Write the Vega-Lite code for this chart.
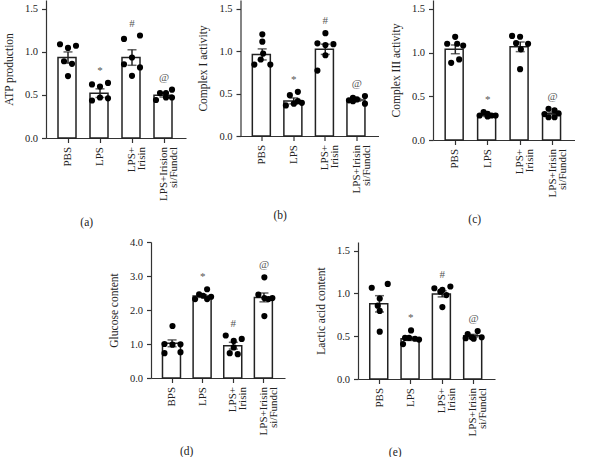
{
"$schema": "https://vega.github.io/schema/vega-lite/v6.json",
"padding": {"left": 3, "top": 0, "right": 0, "bottom": 0},
"background": "white",
"config": {
  "font": "Liberation Serif",
  "view": {"stroke": null},
  "axis": {"labelFont": "Liberation Serif", "titleFont": "Liberation Serif", "labelFontSize": 10.5, "titleFontSize": 11.5, "titleFontWeight": "normal", "labelColor": "#222", "titleColor": "#222", "domainColor": "#333", "tickColor": "#333", "domainWidth": 1.2, "tickWidth": 1.2, "tickSize": 4.5, "grid": false, "labelPadding": 4, "titlePadding": 10, "labelOverlap": false},
  "axisX": {"labelFontSize": 11},
  "title": {"font": "Liberation Serif", "fontSize": 11.5, "fontWeight": "normal", "color": "#222"}
},
"datasets": {
  "a_sum": [
    {"g": "PBS", "mean": 0.933, "sem": 0.065, "sig": ""},
    {"g": "LPS", "mean": 0.52, "sem": 0.05, "sig": "*"},
    {"g": "LPS+|Irisin", "mean": 0.933, "sem": 0.09, "sig": "#"},
    {"g": "LPS+Irision|si/Fundcl", "mean": 0.495, "sem": 0.02, "sig": "@"}
  ],
  "a_pts": [
    {"g": "PBS", "v": 1.087, "slot": 1}, {"g": "PBS", "v": 1.044, "slot": 3}, {"g": "PBS", "v": 1.07, "slot": 5},
    {"g": "PBS", "v": 0.89, "slot": 2}, {"g": "PBS", "v": 0.86, "slot": 4}, {"g": "PBS", "v": 0.718, "slot": 3},
    {"g": "LPS", "v": 0.621, "slot": 1}, {"g": "LPS", "v": 0.596, "slot": 3}, {"g": "LPS", "v": 0.639, "slot": 5},
    {"g": "LPS", "v": 0.435, "slot": 1}, {"g": "LPS", "v": 0.47, "slot": 3}, {"g": "LPS", "v": 0.46, "slot": 5},
    {"g": "LPS+|Irisin", "v": 1.149, "slot": 1}, {"g": "LPS+|Irisin", "v": 1.188, "slot": 5}, {"g": "LPS+|Irisin", "v": 0.855, "slot": 1},
    {"g": "LPS+|Irisin", "v": 0.933, "slot": 3}, {"g": "LPS+|Irisin", "v": 0.818, "slot": 5}, {"g": "LPS+|Irisin", "v": 0.721, "slot": 3},
    {"g": "LPS+Irision|si/Fundcl", "v": 0.441, "slot": 1}, {"g": "LPS+Irision|si/Fundcl", "v": 0.521, "slot": 2}, {"g": "LPS+Irision|si/Fundcl", "v": 0.521, "slot": 3.5},
    {"g": "LPS+Irision|si/Fundcl", "v": 0.56, "slot": 5}, {"g": "LPS+Irision|si/Fundcl", "v": 0.47, "slot": 3.5}, {"g": "LPS+Irision|si/Fundcl", "v": 0.47, "slot": 5}
  ],
  "b_sum": [
    {"g": "PBS", "mean": 0.96, "sem": 0.065, "sig": ""},
    {"g": "LPS", "mean": 0.413, "sem": 0.035, "sig": "*"},
    {"g": "LPS+|Irisin", "mean": 1.02, "sem": 0.06, "sig": "#"},
    {"g": "LPS+Irisin|si/Fundcl", "mean": 0.425, "sem": 0.015, "sig": "@"}
  ],
  "b_pts": [
    {"g": "PBS", "v": 1.196, "slot": 3}, {"g": "PBS", "v": 1.11, "slot": 3}, {"g": "PBS", "v": 0.97, "slot": 3.2},
    {"g": "PBS", "v": 0.84, "slot": 1}, {"g": "PBS", "v": 0.84, "slot": 5}, {"g": "PBS", "v": 0.9, "slot": 2.6},
    {"g": "LPS", "v": 0.48, "slot": 2}, {"g": "LPS", "v": 0.52, "slot": 4}, {"g": "LPS", "v": 0.36, "slot": 1},
    {"g": "LPS", "v": 0.38, "slot": 3}, {"g": "LPS", "v": 0.39, "slot": 5}, {"g": "LPS", "v": 0.41, "slot": 4},
    {"g": "LPS+|Irisin", "v": 1.21, "slot": 3}, {"g": "LPS+|Irisin", "v": 1.09, "slot": 1}, {"g": "LPS+|Irisin", "v": 1.08, "slot": 5},
    {"g": "LPS+|Irisin", "v": 1.07, "slot": 3}, {"g": "LPS+|Irisin", "v": 0.95, "slot": 3}, {"g": "LPS+|Irisin", "v": 0.77, "slot": 1},
    {"g": "LPS+Irisin|si/Fundcl", "v": 0.45, "slot": 2}, {"g": "LPS+Irisin|si/Fundcl", "v": 0.47, "slot": 5}, {"g": "LPS+Irisin|si/Fundcl", "v": 0.42, "slot": 1},
    {"g": "LPS+Irisin|si/Fundcl", "v": 0.43, "slot": 3}, {"g": "LPS+Irisin|si/Fundcl", "v": 0.41, "slot": 2}, {"g": "LPS+Irisin|si/Fundcl", "v": 0.38, "slot": 5}
  ],
  "c_sum": [
    {"g": "PBS", "mean": 1.036, "sem": 0.05, "sig": ""},
    {"g": "LPS", "mean": 0.279, "sem": 0.01, "sig": "*"},
    {"g": "LPS+|Irisin", "mean": 1.065, "sem": 0.055, "sig": ""},
    {"g": "LPS+Irisin|si/Fundcl", "mean": 0.304, "sem": 0.015, "sig": "@"}
  ],
  "c_pts": [
    {"g": "PBS", "v": 1.179, "slot": 3}, {"g": "PBS", "v": 1.1, "slot": 1}, {"g": "PBS", "v": 1.1, "slot": 3.5},
    {"g": "PBS", "v": 1.079, "slot": 5}, {"g": "PBS", "v": 0.882, "slot": 2}, {"g": "PBS", "v": 0.921, "slot": 4},
    {"g": "LPS", "v": 0.28, "slot": 1}, {"g": "LPS", "v": 0.32, "slot": 2}, {"g": "LPS", "v": 0.3, "slot": 3},
    {"g": "LPS", "v": 0.28, "slot": 4}, {"g": "LPS", "v": 0.28, "slot": 5}, {"g": "LPS", "v": 0.27, "slot": 3},
    {"g": "LPS+|Irisin", "v": 1.19, "slot": 1}, {"g": "LPS+|Irisin", "v": 1.18, "slot": 3}, {"g": "LPS+|Irisin", "v": 1.107, "slot": 2},
    {"g": "LPS+|Irisin", "v": 1.1, "slot": 5}, {"g": "LPS+|Irisin", "v": 1.036, "slot": 3.2}, {"g": "LPS+|Irisin", "v": 0.81, "slot": 3},
    {"g": "LPS+Irisin|si/Fundcl", "v": 0.296, "slot": 1}, {"g": "LPS+Irisin|si/Fundcl", "v": 0.357, "slot": 2}, {"g": "LPS+Irisin|si/Fundcl", "v": 0.339, "slot": 3.5},
    {"g": "LPS+Irisin|si/Fundcl", "v": 0.304, "slot": 4.5}, {"g": "LPS+Irisin|si/Fundcl", "v": 0.26, "slot": 2}, {"g": "LPS+Irisin|si/Fundcl", "v": 0.26, "slot": 3.5}
  ],
  "d_sum": [
    {"g": "BPS", "mean": 1.02, "sem": 0.1, "sig": ""},
    {"g": "LPS", "mean": 2.41, "sem": 0.04, "sig": "*"},
    {"g": "LPS+|Irisin", "mean": 0.95, "sem": 0.1, "sig": "#"},
    {"g": "LPS+Irisin|si/Fundcl", "mean": 2.37, "sem": 0.13, "sig": "@"}
  ],
  "d_pts": [
    {"g": "BPS", "v": 1.53, "slot": 3}, {"g": "BPS", "v": 1.0, "slot": 1}, {"g": "BPS", "v": 0.98, "slot": 3},
    {"g": "BPS", "v": 0.99, "slot": 5}, {"g": "BPS", "v": 0.73, "slot": 1}, {"g": "BPS", "v": 0.76, "slot": 5},
    {"g": "LPS", "v": 2.61, "slot": 4}, {"g": "LPS", "v": 2.46, "slot": 2}, {"g": "LPS", "v": 2.42, "slot": 3},
    {"g": "LPS", "v": 2.39, "slot": 5}, {"g": "LPS", "v": 2.32, "slot": 1}, {"g": "LPS", "v": 2.32, "slot": 4},
    {"g": "LPS+|Irisin", "v": 1.25, "slot": 1}, {"g": "LPS+|Irisin", "v": 1.15, "slot": 5}, {"g": "LPS+|Irisin", "v": 1.09, "slot": 3},
    {"g": "LPS+|Irisin", "v": 0.73, "slot": 2}, {"g": "LPS+|Irisin", "v": 0.7, "slot": 4}, {"g": "LPS+|Irisin", "v": 0.9, "slot": 3},
    {"g": "LPS+Irisin|si/Fundcl", "v": 2.96, "slot": 3}, {"g": "LPS+Irisin|si/Fundcl", "v": 2.45, "slot": 1.5}, {"g": "LPS+Irisin|si/Fundcl", "v": 2.35, "slot": 3},
    {"g": "LPS+Irisin|si/Fundcl", "v": 2.32, "slot": 4}, {"g": "LPS+Irisin|si/Fundcl", "v": 2.35, "slot": 5}, {"g": "LPS+Irisin|si/Fundcl", "v": 1.82, "slot": 3}
  ],
  "e_sum": [
    {"g": "PBS", "mean": 0.878, "sem": 0.095, "sig": ""},
    {"g": "LPS", "mean": 0.47, "sem": 0.02, "sig": "*"},
    {"g": "LPS+|Irisin", "mean": 0.994, "sem": 0.035, "sig": "#"},
    {"g": "LPS+Irisin|si/Fundcl", "mean": 0.506, "sem": 0.015, "sig": "@"}
  ],
  "e_pts": [
    {"g": "PBS", "v": 1.066, "slot": 1}, {"g": "PBS", "v": 1.11, "slot": 5}, {"g": "PBS", "v": 0.94, "slot": 3},
    {"g": "PBS", "v": 0.856, "slot": 2.5}, {"g": "PBS", "v": 0.795, "slot": 3}, {"g": "PBS", "v": 0.553, "slot": 3},
    {"g": "LPS", "v": 0.567, "slot": 3}, {"g": "LPS", "v": 0.408, "slot": 1}, {"g": "LPS", "v": 0.48, "slot": 1.5},
    {"g": "LPS", "v": 0.48, "slot": 2.5}, {"g": "LPS", "v": 0.47, "slot": 4}, {"g": "LPS", "v": 0.46, "slot": 5},
    {"g": "LPS+|Irisin", "v": 1.06, "slot": 1}, {"g": "LPS+|Irisin", "v": 1.04, "slot": 3}, {"g": "LPS+|Irisin", "v": 1.08, "slot": 5},
    {"g": "LPS+|Irisin", "v": 1.02, "slot": 2.5}, {"g": "LPS+|Irisin", "v": 0.98, "slot": 4}, {"g": "LPS+|Irisin", "v": 0.84, "slot": 3},
    {"g": "LPS+Irisin|si/Fundcl", "v": 0.524, "slot": 1.5}, {"g": "LPS+Irisin|si/Fundcl", "v": 0.56, "slot": 4}, {"g": "LPS+Irisin|si/Fundcl", "v": 0.488, "slot": 2.5},
    {"g": "LPS+Irisin|si/Fundcl", "v": 0.47, "slot": 3}, {"g": "LPS+Irisin|si/Fundcl", "v": 0.488, "slot": 5}, {"g": "LPS+Irisin|si/Fundcl", "v": 0.477, "slot": 1}
  ]
},
"vconcat": [
  {"hconcat": [
    {"title": {"text": "(a)", "orient": "bottom", "frame": "bounds", "anchor": "middle", "offset": 17, "dx": -8},
     "width": 140, "height": 138,
     "encoding": {"x": {"field": "g", "type": "nominal", "title": null, "scale": {"domain": ["PBS", "LPS", "LPS+|Irisin", "LPS+Irision|si/Fundcl"], "paddingInner": 0.375, "paddingOuter": 0.375}, "axis": {"labelAngle": -90, "labelExpr": "split(datum.value, '|')", "labelLineHeight": 10}}},
     "layer": [
      {"data": {"name": "a_sum"}, "mark": {"type": "bar", "fill": "white", "stroke": "#222", "strokeWidth": 1.5}, "encoding": {"y": {"field": "mean", "type": "quantitative", "title": "ATP production", "scale": {"domain": [0, 1.5]}, "axis": {"values": [0, 0.5, 1, 1.5], "format": ".1f"}}}},
      {"data": {"name": "a_sum"}, "mark": {"type": "errorbar", "ticks": true, "size": 9, "thickness": 1.5, "color": "#222"}, "encoding": {"y": {"field": "mean", "type": "quantitative", "title": "ATP production", "axis": {"values": [0, 0.5, 1, 1.5], "format": ".1f"}}, "yError": {"field": "sem"}}},
      {"data": {"name": "a_pts"}, "mark": {"type": "circle", "size": 38, "color": "black", "opacity": 1}, "encoding": {"y": {"field": "v", "type": "quantitative", "title": "ATP production", "axis": {"values": [0, 0.5, 1, 1.5], "format": ".1f"}}, "xOffset": {"field": "slot", "type": "quantitative", "scale": {"domain": [0.5, 5.5]}}}},
      {"data": {"name": "a_pts"}, "transform": [{"aggregate": [{"op": "max", "field": "v", "as": "top"}], "groupby": ["g"]}, {"lookup": "g", "from": {"data": {"name": "a_sum"}, "key": "g", "fields": ["sig"]}}], "mark": {"type": "text", "dy": -12, "fontSize": 11, "color": "#555", "baseline": "middle"}, "encoding": {"y": {"field": "top", "type": "quantitative", "title": "ATP production", "axis": {"values": [0, 0.5, 1, 1.5], "format": ".1f"}}, "text": {"field": "sig"}}}
     ]},
    {"title": {"text": "(b)", "orient": "bottom", "frame": "bounds", "anchor": "middle", "offset": 17, "dx": -8},
     "width": 138, "height": 136,
     "encoding": {"x": {"field": "g", "type": "nominal", "title": null, "scale": {"domain": ["PBS", "LPS", "LPS+|Irisin", "LPS+Irisin|si/Fundcl"], "paddingInner": 0.375, "paddingOuter": 0.375}, "axis": {"labelAngle": -90, "labelExpr": "split(datum.value, '|')", "labelLineHeight": 10}}},
     "layer": [
      {"data": {"name": "b_sum"}, "mark": {"type": "bar", "fill": "white", "stroke": "#222", "strokeWidth": 1.5}, "encoding": {"y": {"field": "mean", "type": "quantitative", "title": "Complex I activity", "scale": {"domain": [0, 1.5]}, "axis": {"values": [0, 0.5, 1, 1.5], "format": ".1f"}}}},
      {"data": {"name": "b_sum"}, "mark": {"type": "errorbar", "ticks": true, "size": 9, "thickness": 1.5, "color": "#222"}, "encoding": {"y": {"field": "mean", "type": "quantitative", "title": "Complex I activity", "axis": {"values": [0, 0.5, 1, 1.5], "format": ".1f"}}, "yError": {"field": "sem"}}},
      {"data": {"name": "b_pts"}, "mark": {"type": "circle", "size": 38, "color": "black", "opacity": 1}, "encoding": {"y": {"field": "v", "type": "quantitative", "title": "Complex I activity", "axis": {"values": [0, 0.5, 1, 1.5], "format": ".1f"}}, "xOffset": {"field": "slot", "type": "quantitative", "scale": {"domain": [0.5, 5.5]}}}},
      {"data": {"name": "b_pts"}, "transform": [{"aggregate": [{"op": "max", "field": "v", "as": "top"}], "groupby": ["g"]}, {"lookup": "g", "from": {"data": {"name": "b_sum"}, "key": "g", "fields": ["sig"]}}], "mark": {"type": "text", "dy": -12, "fontSize": 11, "color": "#555", "baseline": "middle"}, "encoding": {"y": {"field": "top", "type": "quantitative", "title": "Complex I activity", "axis": {"values": [0, 0.5, 1, 1.5], "format": ".1f"}}, "text": {"field": "sig"}}}
     ]},
    {"title": {"text": "(c)", "orient": "bottom", "frame": "bounds", "anchor": "middle", "offset": 17, "dx": -8},
     "width": 142, "height": 140,
     "encoding": {"x": {"field": "g", "type": "nominal", "title": null, "scale": {"domain": ["PBS", "LPS", "LPS+|Irisin", "LPS+Irisin|si/Fundcl"], "paddingInner": 0.375, "paddingOuter": 0.375}, "axis": {"labelAngle": -90, "labelExpr": "split(datum.value, '|')", "labelLineHeight": 10}}},
     "layer": [
      {"data": {"name": "c_sum"}, "mark": {"type": "bar", "fill": "white", "stroke": "#222", "strokeWidth": 1.5}, "encoding": {"y": {"field": "mean", "type": "quantitative", "title": "Complex III activity", "scale": {"domain": [0, 1.5]}, "axis": {"values": [0, 0.5, 1, 1.5], "format": ".1f"}}}},
      {"data": {"name": "c_sum"}, "mark": {"type": "errorbar", "ticks": true, "size": 9, "thickness": 1.5, "color": "#222"}, "encoding": {"y": {"field": "mean", "type": "quantitative", "title": "Complex III activity", "axis": {"values": [0, 0.5, 1, 1.5], "format": ".1f"}}, "yError": {"field": "sem"}}},
      {"data": {"name": "c_pts"}, "mark": {"type": "circle", "size": 38, "color": "black", "opacity": 1}, "encoding": {"y": {"field": "v", "type": "quantitative", "title": "Complex III activity", "axis": {"values": [0, 0.5, 1, 1.5], "format": ".1f"}}, "xOffset": {"field": "slot", "type": "quantitative", "scale": {"domain": [0.5, 5.5]}}}},
      {"data": {"name": "c_pts"}, "transform": [{"aggregate": [{"op": "max", "field": "v", "as": "top"}], "groupby": ["g"]}, {"lookup": "g", "from": {"data": {"name": "c_sum"}, "key": "g", "fields": ["sig"]}}], "mark": {"type": "text", "dy": -12, "fontSize": 11, "color": "#555", "baseline": "middle"}, "encoding": {"y": {"field": "top", "type": "quantitative", "title": "Complex III activity", "axis": {"values": [0, 0.5, 1, 1.5], "format": ".1f"}}, "text": {"field": "sig"}}}
     ]}
  ], "spacing": 11.5},
  {"hconcat": [
    {"width": 32, "height": 10, "data": {"values": []}, "mark": {"type": "point", "opacity": 0}},
    {"title": {"text": "(d)", "orient": "bottom", "frame": "bounds", "anchor": "middle", "offset": 11, "dx": -10},
     "width": 134, "height": 136,
     "encoding": {"x": {"field": "g", "type": "nominal", "title": null, "scale": {"domain": ["BPS", "LPS", "LPS+|Irisin", "LPS+Irisin|si/Fundcl"], "paddingInner": 0.375, "paddingOuter": 0.375}, "axis": {"labelAngle": -90, "labelExpr": "split(datum.value, '|')", "labelLineHeight": 10}}},
     "layer": [
      {"data": {"name": "d_sum"}, "mark": {"type": "bar", "fill": "white", "stroke": "#222", "strokeWidth": 1.5}, "encoding": {"y": {"field": "mean", "type": "quantitative", "title": "Glucose content", "scale": {"domain": [0, 4]}, "axis": {"values": [0, 1, 2, 3, 4], "format": ".1f"}}}},
      {"data": {"name": "d_sum"}, "mark": {"type": "errorbar", "ticks": true, "size": 9, "thickness": 1.5, "color": "#222"}, "encoding": {"y": {"field": "mean", "type": "quantitative", "title": "Glucose content", "axis": {"values": [0, 1, 2, 3, 4], "format": ".1f"}}, "yError": {"field": "sem"}}},
      {"data": {"name": "d_pts"}, "mark": {"type": "circle", "size": 38, "color": "black", "opacity": 1}, "encoding": {"y": {"field": "v", "type": "quantitative", "title": "Glucose content", "axis": {"values": [0, 1, 2, 3, 4], "format": ".1f"}}, "xOffset": {"field": "slot", "type": "quantitative", "scale": {"domain": [0.5, 5.5]}}}},
      {"data": {"name": "d_pts"}, "transform": [{"aggregate": [{"op": "max", "field": "v", "as": "top"}], "groupby": ["g"]}, {"lookup": "g", "from": {"data": {"name": "d_sum"}, "key": "g", "fields": ["sig"]}}], "mark": {"type": "text", "dy": -12, "fontSize": 11, "color": "#555", "baseline": "middle"}, "encoding": {"y": {"field": "top", "type": "quantitative", "title": "Glucose content", "axis": {"values": [0, 1, 2, 3, 4], "format": ".1f"}}, "text": {"field": "sig"}}}
     ]},
    {"title": {"text": "(e)", "orient": "bottom", "frame": "bounds", "anchor": "middle", "offset": 11, "dx": -10},
     "width": 137, "height": 137,
     "encoding": {"x": {"field": "g", "type": "nominal", "title": null, "scale": {"domain": ["PBS", "LPS", "LPS+|Irisin", "LPS+Irisin|si/Fundcl"], "paddingInner": 0.375, "paddingOuter": 0.375}, "axis": {"labelAngle": -90, "labelExpr": "split(datum.value, '|')", "labelLineHeight": 10}}},
     "layer": [
      {"data": {"name": "e_sum"}, "mark": {"type": "bar", "fill": "white", "stroke": "#222", "strokeWidth": 1.5}, "encoding": {"y": {"field": "mean", "type": "quantitative", "title": "Lactic acid content", "scale": {"domain": [0, 1.5]}, "axis": {"values": [0, 0.5, 1, 1.5], "format": ".1f"}}}},
      {"data": {"name": "e_sum"}, "mark": {"type": "errorbar", "ticks": true, "size": 9, "thickness": 1.5, "color": "#222"}, "encoding": {"y": {"field": "mean", "type": "quantitative", "title": "Lactic acid content", "axis": {"values": [0, 0.5, 1, 1.5], "format": ".1f"}}, "yError": {"field": "sem"}}},
      {"data": {"name": "e_pts"}, "mark": {"type": "circle", "size": 38, "color": "black", "opacity": 1}, "encoding": {"y": {"field": "v", "type": "quantitative", "title": "Lactic acid content", "axis": {"values": [0, 0.5, 1, 1.5], "format": ".1f"}}, "xOffset": {"field": "slot", "type": "quantitative", "scale": {"domain": [0.5, 5.5]}}}},
      {"data": {"name": "e_pts"}, "transform": [{"aggregate": [{"op": "max", "field": "v", "as": "top"}], "groupby": ["g"]}, {"lookup": "g", "from": {"data": {"name": "e_sum"}, "key": "g", "fields": ["sig"]}}], "mark": {"type": "text", "dy": -12, "fontSize": 11, "color": "#555", "baseline": "middle"}, "encoding": {"y": {"field": "top", "type": "quantitative", "title": "Lactic acid content", "axis": {"values": [0, 0.5, 1, 1.5], "format": ".1f"}}, "text": {"field": "sig"}}}
     ]}
  ], "spacing": 30}
],
"spacing": 8,
"center": false
}
